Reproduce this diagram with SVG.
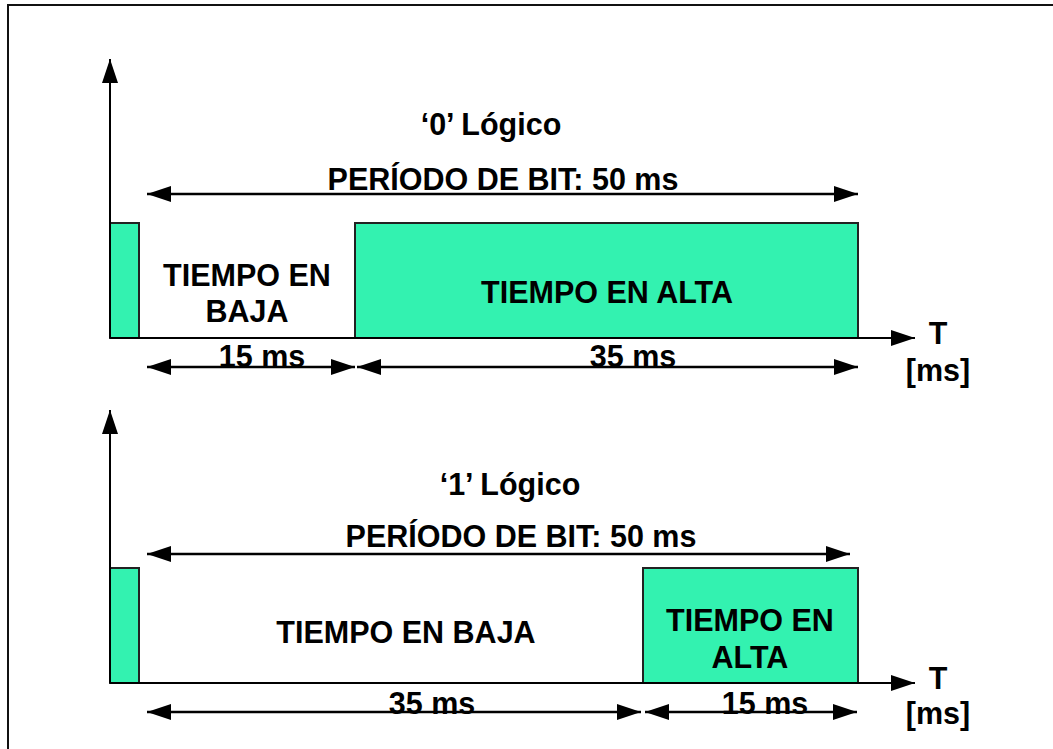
<svg xmlns="http://www.w3.org/2000/svg" width="1053" height="749" viewBox="0 0 1053 749">
<defs>
<marker id="ah" markerWidth="24" markerHeight="16" refX="24" refY="8" orient="auto-start-reverse" markerUnits="userSpaceOnUse"><path d="M0,0 L24,8 L0,16 Z" fill="#000"/></marker>
</defs>
<style>
.t{font-family:"Liberation Sans",Arial,sans-serif;font-weight:bold;font-size:30.5px;fill:#000;text-anchor:middle}
.p{fill:#33f2b0;stroke:#222;stroke-width:2}
.ln{stroke:#000;stroke-width:2.5;fill:none}
.ax{stroke:#000;stroke-width:2;fill:none}
</style>
<rect x="8" y="5" width="1060" height="760" fill="#fff" stroke="#111" stroke-width="2"/>
<g id="chart0">
<g id="pulse0a"><rect class="p" x="110" y="223" width="29" height="115"/></g>
<g id="pulse0b"><rect class="p" x="355" y="223" width="503" height="115"/></g>
<g id="labels0">
<text class="t" x="491" y="135">‘0’ Lógico</text>
<text class="t" x="503" y="190">PERÍODO DE BIT: 50 ms</text>
<text class="t" x="247" y="286">TIEMPO EN</text>
<text class="t" x="247" y="322">BAJA</text>
<text class="t" x="607" y="303">TIEMPO EN ALTA</text>
<text class="t" x="262" y="367">15 ms</text>
<text class="t" x="633" y="367">35 ms</text>
<text class="t" x="938" y="344">T</text>
<text class="t" x="938" y="381">[ms]</text>
</g>
</g>
<g id="chart1">
<g id="pulse1a"><rect class="p" x="110" y="568" width="29" height="115"/></g>
<g id="pulse1b"><rect class="p" x="643" y="568" width="215" height="115"/></g>
<g id="labels1">
<text class="t" x="510" y="495">‘1’ Lógico</text>
<text class="t" x="521" y="547">PERÍODO DE BIT: 50 ms</text>
<text class="t" x="406" y="643">TIEMPO EN BAJA</text>
<text class="t" x="750" y="631">TIEMPO EN</text>
<text class="t" x="750" y="668">ALTA</text>
<text class="t" x="432" y="714">35 ms</text>
<text class="t" x="765" y="714">15 ms</text>
<text class="t" x="938" y="689">T</text>
<text class="t" x="938" y="724">[ms]</text>
</g>
</g>
<g id="connectors">
<line class="ax" x1="110" y1="338" x2="110" y2="59" marker-end="url(#ah)"/>
<line class="ax" x1="110" y1="338" x2="915" y2="338" marker-end="url(#ah)"/>
<line class="ln" x1="147" y1="194" x2="858" y2="194" marker-start="url(#ah)" marker-end="url(#ah)"/>
<line class="ln" x1="147" y1="367" x2="355" y2="367" marker-start="url(#ah)" marker-end="url(#ah)"/>
<line class="ln" x1="357" y1="367" x2="858" y2="367" marker-start="url(#ah)" marker-end="url(#ah)"/>
<line class="ax" x1="110" y1="683" x2="110" y2="410" marker-end="url(#ah)"/>
<line class="ax" x1="110" y1="683" x2="915" y2="683" marker-end="url(#ah)"/>
<line class="ln" x1="147" y1="554" x2="850" y2="554" marker-start="url(#ah)" marker-end="url(#ah)"/>
<line class="ln" x1="147" y1="712" x2="641" y2="712" marker-start="url(#ah)" marker-end="url(#ah)"/>
<line class="ln" x1="645" y1="712" x2="857" y2="712" marker-start="url(#ah)" marker-end="url(#ah)"/>
</g>
</svg>
